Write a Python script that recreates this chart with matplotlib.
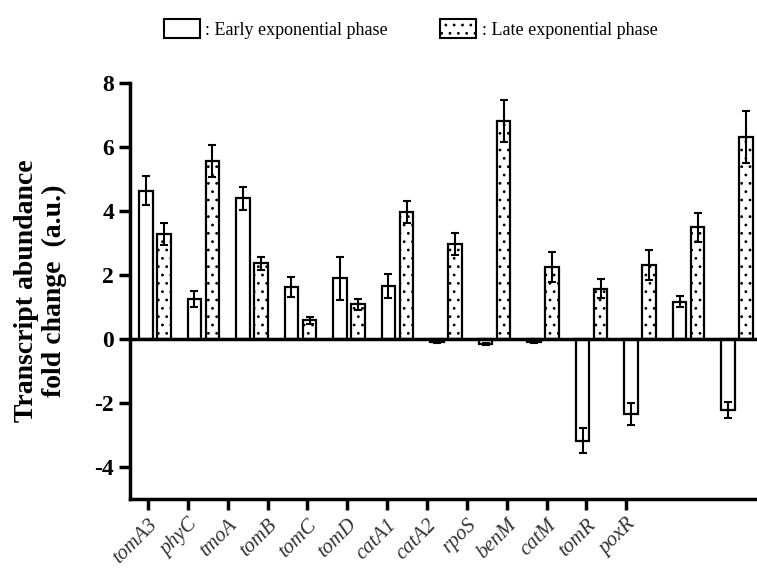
import numpy as np
import matplotlib
matplotlib.use("Agg")
import matplotlib.pyplot as plt
from matplotlib.patches import Patch

plt.rcParams['font.family'] = ['Liberation Serif', 'DejaVu Serif']
plt.rcParams['hatch.linewidth'] = 0.8

genes = ['tomA3', 'phyC', 'tmoA', 'tomB', 'tomC', 'tomD', 'catA1',
         'catA2', 'rpoS', 'benM', 'catM', 'tomR', 'poxR']

early = [4.63, 1.25, 4.40, 1.63, 1.90, 1.66, -0.10, -0.15, -0.10, -3.18, -2.35, 1.16, -2.22]
early_err = [0.45, 0.26, 0.36, 0.31, 0.67, 0.37, 0.03, 0.03, 0.03, 0.39, 0.35, 0.17, 0.26]
late = [3.28, 5.57, 2.36, 0.59, 1.09, 3.96, 2.97, 6.81, 2.24, 1.57, 2.30, 3.49, 6.32]
late_err = [0.34, 0.50, 0.21, 0.11, 0.17, 0.35, 0.35, 0.66, 0.47, 0.30, 0.47, 0.45, 0.81]

fig = plt.figure(figsize=(7.57, 5.83), dpi=100)
ax = fig.add_axes([0.1717, 0.1441, 0.8283, 0.7135])

x = np.arange(len(genes))
w = 0.28
off = 0.186
ekw = dict(elinewidth=1.5, capthick=1.5, capsize=3, ecolor='black')

ax.bar(x - off, early, w, yerr=early_err, color='white', edgecolor='black',
       linewidth=1.6, error_kw=ekw, zorder=2)
ax.bar(x + off, late, w, yerr=late_err, color='white', edgecolor='black',
       linewidth=1.6, hatch='..', error_kw=ekw, zorder=2)

ax.axhline(0, color='black', lw=2.5, zorder=3)

ax.set_xlim(-0.515, 12.41)
ax.set_ylim(-5, 8)
ax.set_yticks(np.arange(-4, 9, 2))
ax.set_yticklabels([str(v) for v in range(-4, 9, 2)], fontsize=17, fontweight='bold')

# the tick marks in the original are spaced tighter than the bar groups
tick_pos = -0.144 + 0.8216 * x
ax.set_xticks(tick_pos)
ax.set_xticklabels(genes, rotation=45, ha='right', va='top', rotation_mode='anchor',
                   fontsize=15, style='italic', color='#333333')

for s in ['top', 'right']:
    ax.spines[s].set_visible(False)
for s in ['left', 'bottom']:
    ax.spines[s].set_linewidth(2.5)
ax.tick_params(axis='both', length=8, width=2.5, direction='out')
ax.tick_params(axis='x', pad=4)

ax.set_ylabel('Transcript abundance\nfold change  (a.u.)', fontsize=20,
              fontweight='bold', linespacing=1.15)
ax.yaxis.set_label_coords(-0.1, 0.5)

handles = [Patch(facecolor='white', edgecolor='black', linewidth=1.5),
           Patch(facecolor='white', edgecolor='black', linewidth=1.5, hatch='..')]
fig.legend(handles, [': Early exponential phase', ': Late exponential phase'],
           loc='upper left', bbox_to_anchor=(0.195, 0.995), ncol=2, frameon=False,
           fontsize=13, handlelength=2.0, handleheight=1.2, handletextpad=0.3,
           columnspacing=2.9)

fig.savefig('out.png', dpi=100)
